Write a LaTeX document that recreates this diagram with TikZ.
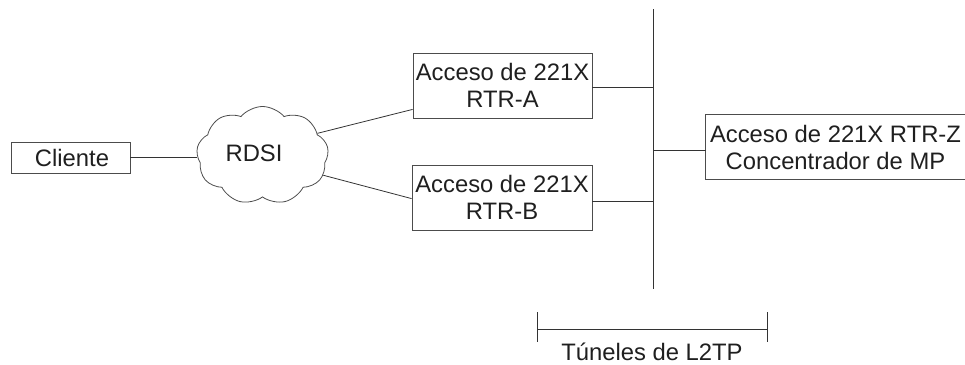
\documentclass[tikz,border=0pt]{standalone}
\usepackage{fontspec}
\setmainfont{Liberation Sans}
\usetikzlibrary{shapes.symbols}
\begin{document}
\begin{tikzpicture}[x=1pt,y=-1pt,
  every node/.style={font=\fontsize{23.8}{27}\selectfont, text=black!88, inner sep=0pt},
  box/.style={draw=black!70, line width=0.8pt, align=center},
  wire/.style={draw=black!80, line width=0.8pt},
  netcloud/.style={cloud, cloud puffs=9, cloud puff arc=100, draw=black!70, line width=0.8pt, aspect=1.5}
]
\useasboundingbox (0,0) rectangle (965,364);
\node[box, minimum width=119pt, minimum height=31pt] (cliente) at (70.5,157.5) {\hspace*{3pt}Cliente};
\node[netcloud, minimum width=132pt, minimum height=98pt] (rdsi) at (262.5,155.5) {};
\node (rdsilbl) at (254,153) {RDSI};
\node[box, minimum width=179pt, minimum height=65pt] (rtra) at (502.5,85.5) {Acceso de 221X\\RTR-A};
\node[box, minimum width=180pt, minimum height=65pt] (rtrb) at (502,197.5) {Acceso de 221X\\RTR-B};
\node[align=center, minimum width=259pt, minimum height=64pt] (rtrz) at (835.5,147) {Acceso de 221X RTR-Z\\Concentrador de MP};
\draw[draw=black!70, line width=0.8pt] (rtrz.north east) -- (rtrz.north west) -- (rtrz.south west) -- (rtrz.south east);
\coordinate (bustop) at (653,9);
\coordinate (busbot) at (653,289);
\draw[wire] (bustop) -- (busbot);
\draw[wire] (cliente.east) -- (cliente.east -| rdsi.west);
\draw[wire] (rdsi.22) -- ([yshift=9pt]rtra.south west);
\draw[wire] (rdsi.-18) -- ([yshift=-34pt]rtrb.north west);
\draw[wire] ([yshift=-1.5pt]rtra.east) -- ([yshift=-1.5pt]rtra.east -| bustop);
\draw[wire] ([yshift=-3.5pt]rtrb.east) -- ([yshift=-3.5pt]rtrb.east -| bustop);
\draw[wire] ([yshift=-3pt]rtrz.west -| bustop) -- ([yshift=-3pt]rtrz.west);
\coordinate (brl) at (537,329);
\coordinate (brr) at (767,329);
\draw[wire] ([yshift=17pt]brl) -- ([yshift=-13pt]brl);
\draw[wire] ([yshift=17pt]brr) -- ([yshift=-13pt]brr);
\draw[wire] (brl) -- (brr);
\node (tuneles) at (652,352) {Túneles de L2TP};
\end{tikzpicture}
\end{document}
